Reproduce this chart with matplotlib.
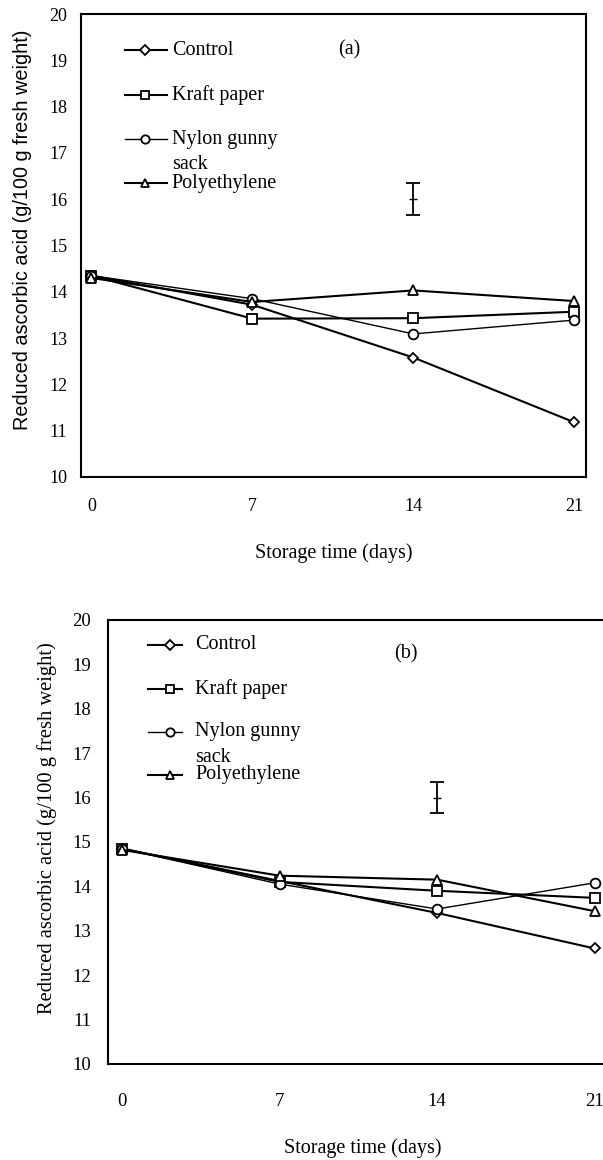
import numpy as np
import matplotlib.pyplot as plt
from matplotlib.lines import Line2D

days = [0, 7, 14, 21]
series_names = ['Control', 'Kraft paper', 'Nylon gunny\nsack', 'Polyethylene']
series_markers = ['D', 's', 'o', '^']

# panel (a)
control_a = [14.35, 13.72, 12.58, 11.18]
kraft_a = [14.35, 13.42, 13.43, 13.57]
nylon_a = [14.35, 13.85, 13.09, 13.39]
poly_a = [14.30, 13.78, 14.03, 13.80]
err_a = (14, 16.0, 0.35)

# panel (b)
control_b = [14.85, 14.12, 13.40, 12.60]
kraft_b = [14.85, 14.10, 13.90, 13.74]
nylon_b = [14.85, 14.05, 13.49, 14.08]
poly_b = [14.82, 14.24, 14.15, 13.44]
err_b = (14, 16.0, 0.34)

serif = 'Liberation Serif'
sans = 'Liberation Sans'

fig = plt.figure(figsize=(6.03, 11.6), dpi=100)
ax_a = fig.add_axes([0.1343, 0.5888, 0.8375, 0.3991])
ax_b = fig.add_axes([0.1791, 0.0828, 0.829, 0.3828])


def draw_panel(ax, values, err, legend_x, legend_y, sack_y, tag_xy, tag,
               tick_size, tick_pad_x, tick_pad_y, ylab_font, ylab_xy, xlab_xy,
               xlim, leg_size):
    for vals, mk, nm in zip(values, series_markers, series_names):
        lw = 1.0 if mk == 'o' else 1.5
        ms = 5.5 if mk == 'D' else 7
        ax.plot(days, vals, color='black', lw=lw, marker=mk, ms=ms,
                mfc='white', mec='black', mew=1.3, clip_on=False, zorder=3)
    x, c, e = err
    ax.errorbar([x], [c], yerr=[e], fmt='_', color='black', ms=6,
                capsize=5, elinewidth=1.3, capthick=1.3)

    # hand-drawn legend, as in the original figure
    x0, xm, x1, xt = legend_x
    for yy, mk, nm in zip(legend_y, series_markers, series_names):
        lw = 1.0 if mk == 'o' else 1.5
        ms = 5 if mk == 'D' else 6
        ax.add_line(Line2D([x0, x1], [yy, yy], transform=ax.transAxes,
                           color='black', lw=lw))
        ax.add_line(Line2D([xm], [yy], transform=ax.transAxes, marker=mk,
                           ms=ms, mfc='white', mec='black', mew=1.3,
                           color='black'))
        ax.text(xt, yy, nm.split('\n')[0], transform=ax.transAxes,
                va='center', ha='left', fontsize=leg_size, family=serif)
    ax.text(xt, sack_y, 'sack', transform=ax.transAxes, va='center',
            ha='left', fontsize=leg_size, family=serif)
    ax.text(tag_xy[0], tag_xy[1], tag, transform=ax.transAxes, va='center',
            ha='center', fontsize=leg_size, family=serif)

    ax.set_xlim(*xlim)
    ax.set_ylim(10, 20)
    ax.set_xticks(days)
    ax.set_yticks(range(10, 21))
    ax.tick_params(axis='both', length=0, labelsize=tick_size)
    ax.tick_params(axis='x', pad=tick_pad_x)
    ax.tick_params(axis='y', pad=tick_pad_y)
    for lab in ax.get_xticklabels() + ax.get_yticklabels():
        lab.set_family(serif)
    ax.set_ylabel('Reduced ascorbic acid (g/100 g fresh weight)',
                  family=ylab_font[0], fontsize=ylab_font[1])
    ax.yaxis.set_label_coords(*ylab_xy)
    ax.set_xlabel('Storage time (days)', family=serif, fontsize=14.5)
    ax.xaxis.set_label_coords(*xlab_xy)
    for sp in ax.spines.values():
        sp.set_linewidth(1.5)


draw_panel(ax_a, [control_a, kraft_a, nylon_a, poly_a], err_a,
           (0.087, 0.127, 0.170, 0.180), [0.922, 0.825, 0.730, 0.635], 0.674,
           (0.531, 0.922), '(a)', 13, 15, 10, (sans, 14.3),
           (-0.097, 0.533), (0.5, -0.143), (-0.45, 21.5), 14.5)

draw_panel(ax_b, [control_b, kraft_b, nylon_b, poly_b], err_b,
           (0.08, 0.124, 0.148, 0.174), [0.944, 0.845, 0.748, 0.651], 0.691,
           (0.596, 0.923), '(b)', 13.5, 21, 12, (serif, 14.8),
           (-0.103, 0.53), (0.51, -0.167), (-0.62, 21.58), 14.5)
ax_b.spines['right'].set_visible(False)

fig.savefig('out.png', dpi=100)
